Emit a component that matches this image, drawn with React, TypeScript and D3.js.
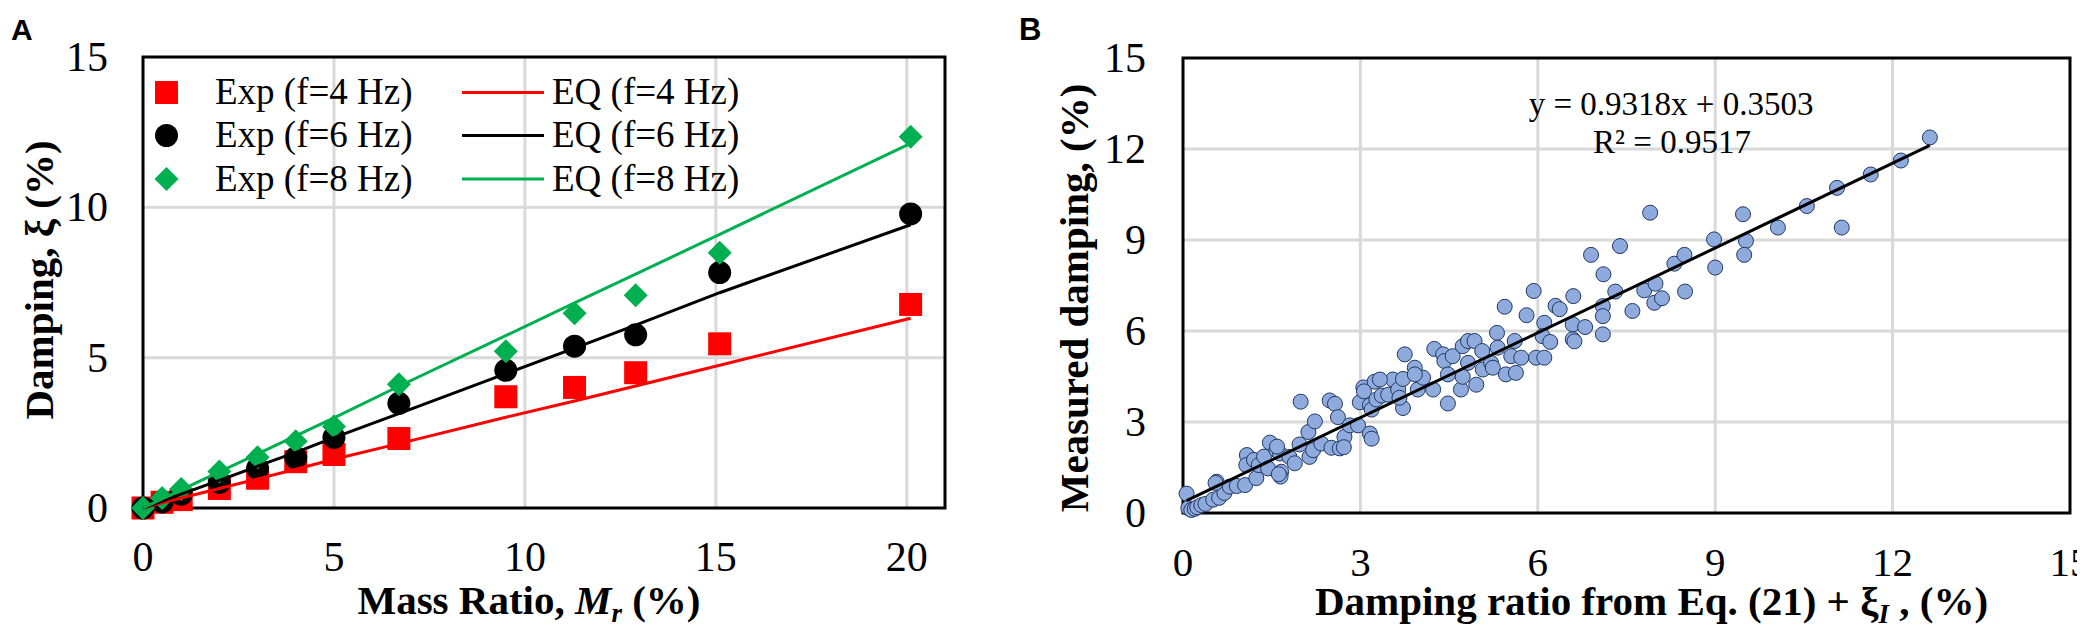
import React from "react";
import * as d3 from "d3";

// ---------- Panel A data ----------
const massRatio = [0, 0.5, 1, 2, 3, 4, 5, 6.7, 9.5, 11.3, 12.9, 15.1, 20.1];
const exp4 = [0, 0.19, 0.28, 0.65, 0.99, 1.54, 1.78, 2.31, 3.7, 4.01, 4.5, 5.46, 6.77];
const exp6 = [0, 0.2, 0.46, 0.85, 1.32, 1.67, 2.35, 3.48, 4.58, 5.38, 5.76, 7.83, 9.78];
const exp8 = [0, 0.33, 0.63, 1.21, 1.69, 2.22, 2.71, 4.12, 5.21, 6.48, 7.08, 8.49, 12.35];
const eq4 = [0, 0.17, 0.33, 0.65, 0.97, 1.29, 1.62, 2.14, 3.02, 3.56, 4.06, 4.75, 6.31];
const eq6 = [0, 0.23, 0.46, 0.92, 1.39, 1.85, 2.34, 3.14, 4.47, 5.32, 6.08, 7.16, 9.42];
const eq8 = [0, 0.3, 0.6, 1.2, 1.8, 2.4, 3.0, 4.05, 5.73, 6.82, 7.78, 9.1, 12.13];
const xTicksA = [0, 5, 10, 15, 20];
const yTicksA = [0, 5, 10, 15];
const legendExp = ["Exp (f=4 Hz)", "Exp (f=6 Hz)", "Exp (f=8 Hz)"];
const legendEq = ["EQ (f=4 Hz)", "EQ (f=6 Hz)", "EQ (f=8 Hz)"];

// ---------- Panel B data ----------
const predX = [
  0.06, 0.09, 0.14, 0.2, 0.24, 0.31, 0.38, 0.51, 0.57, 0.61, 0.7, 0.79, 0.91, 1.05, 1.08, 1.07, 1.2, 1.24, 1.28, 1.37,
  1.47, 1.44, 1.58, 1.64, 1.59, 1.66, 1.65, 1.8, 1.89, 1.97, 1.99, 2.12, 2.14, 2.2, 2.23, 2.34, 2.48, 2.57, 2.51, 2.62,
  2.65, 2.73, 2.82, 2.96, 2.99, 3.05, 3.16, 3.16, 3.24, 3.19, 3.06, 3.19, 3.27, 3.36, 3.47, 3.55, 3.64, 3.72, 3.72, 3.75,
  3.92, 3.97, 4.06, 4.23, 4.25, 4.4, 4.42, 4.48, 4.48, 4.56, 4.7, 4.73, 4.82, 4.73, 4.82, 4.93, 4.96, 5.06, 5.07, 5.21,
  5.24, 5.31, 5.32, 5.44, 5.46, 5.55, 5.61, 5.63, 5.72, 5.81, 5.93, 5.97, 6.11, 6.11, 6.08, 6.21, 6.3, 6.37, 3.33, 3.92,
  3.66, 2.72, 1.62, 0.55, 6.6, 6.59, 6.59, 6.62, 6.8, 6.9, 7.1, 7.1, 7.11, 7.1, 7.31, 7.39, 7.6, 7.8, 7.9, 7.97,
  7.99, 8.1, 8.31, 8.48, 8.49, 8.98, 9.0, 9.47, 9.52, 9.49, 10.06, 10.55, 11.06, 11.14, 11.63, 12.14, 12.63,
];
const measY = [
  0.64, 0.16, 0.1, 0.14, 0.19, 0.26, 0.3, 0.44, 1.03, 0.5, 0.66, 0.87, 0.89, 0.92, 1.91, 1.58, 1.75, 1.15, 1.58, 1.86,
  2.32, 1.47, 2.07, 1.96, 2.19, 1.36, 1.2, 1.85, 1.64, 2.26, 3.67, 2.67, 1.85, 2.07, 3.02, 2.29, 3.71, 3.6, 2.15, 3.16,
  2.13, 2.51, 2.89, 2.89, 3.65, 4.14, 2.62, 3.55, 4.33, 2.45, 4.01, 3.41, 3.74, 3.87, 3.9, 4.4, 4.07, 4.42, 3.46, 5.23,
  4.79, 4.07, 4.46, 4.07, 5.41, 5.23, 5.01, 3.61, 4.57, 5.17, 4.07, 5.5, 5.67, 4.49, 4.95, 5.67, 4.23, 5.34, 4.73, 4.95,
  4.79, 5.94, 5.45, 6.8, 4.57, 5.17, 5.67, 4.62, 5.12, 6.52, 7.32, 5.12, 6.27, 5.12, 5.83, 5.64, 6.83, 6.72, 4.4, 4.57,
  3.8, 2.17, 1.28, 0.99, 7.15, 6.22, 5.73, 5.66, 6.13, 8.51, 6.82, 6.49, 7.87, 5.89, 7.3, 8.8, 6.66, 7.34, 9.9, 6.93,
  7.56, 7.08, 8.22, 8.51, 7.3, 9.02, 8.09, 9.85, 8.97, 8.51, 9.41, 10.12, 10.72, 9.41, 11.16, 11.62, 12.38,
];
const trendSlope = 0.9318;
const trendIntercept = 0.3503;
const rSquared = 0.9517;
const ticksB = [0, 3, 6, 9, 12, 15];

const SERIF = "'Liberation Serif', 'Times New Roman', serif";
const SANS = "'Liberation Sans', Arial, sans-serif";
const RED = "#FF0000";
const GREEN = "#00B050";
const GRID = "#D9D9D9";
const TICK_FS = 42;
const TITLE_FS = 41;

function Diamond({ cx, cy, r, fill }: { cx: number; cy: number; r: number; fill: string }) {
  return <path d={`M${cx},${cy - r}L${cx + r},${cy}L${cx},${cy + r}L${cx - r},${cy}Z`} fill={fill} />;
}

function marker(kind: string, cx: number, cy: number, color: string, key?: any) {
  if (kind === "sq") return <rect key={key} x={cx - 11.5} y={cy - 11.5} width={23} height={23} fill={color} />;
  if (kind === "ci") return <circle key={key} cx={cx} cy={cy} r={11.5} fill={color} />;
  return <Diamond key={key} cx={cx} cy={cy} r={12} fill={color} />;
}

function PanelA() {
  const L = 135, R = 937, T = 49, B = 500;
  const x = d3.scaleLinear().domain([0, 21]).range([L, R]);
  const y = d3.scaleLinear().domain([0, 15]).range([B, T]);
  const line = (vals: number[]) =>
    d3.line<number>().x((_, i) => x(massRatio[i])).y((v) => y(v))(vals) || "";
  const colors = [RED, "#000", GREEN];
  const kinds = ["sq", "ci", "di"];
  const rowY = [84.5, 127.5, 171];
  return (
    <g>
      {xTicksA.filter((t) => t > 0).map((t) => (
        <line key={"gx" + t} x1={x(t)} x2={x(t)} y1={T} y2={B} stroke={GRID} strokeWidth={3} />
      ))}
      {yTicksA.filter((t) => t > 0 && t < 15).map((t) => (
        <line key={"gy" + t} x1={L} x2={R} y1={y(t)} y2={y(t)} stroke={GRID} strokeWidth={3} />
      ))}
      <rect x={L} y={T} width={R - L} height={B - T} fill="none" stroke="#000" strokeWidth={3} />
      {exp4.map((v, i) => marker("sq", x(massRatio[i]), y(v), RED, "r" + i))}
      {exp6.map((v, i) => marker("ci", x(massRatio[i]), y(v), "#000", "b" + i))}
      {exp8.map((v, i) => marker("di", x(massRatio[i]), y(v), GREEN, "g" + i))}
      <path d={line(eq4)} fill="none" stroke={RED} strokeWidth={3} />
      <path d={line(eq6)} fill="none" stroke="#000" strokeWidth={3} />
      <path d={line(eq8)} fill="none" stroke={GREEN} strokeWidth={3} />
      {xTicksA.map((t) => (
        <text key={"tx" + t} x={x(t)} y={563} textAnchor="middle" fontFamily={SERIF} fontSize={TICK_FS}>{t}</text>
      ))}
      {yTicksA.map((t) => (
        <text key={"ty" + t} x={L - 35} y={y(t) + 14} textAnchor="end" fontFamily={SERIF} fontSize={TICK_FS}>{t}</text>
      ))}
      {legendExp.map((lab, i) => (
        <g key={"lg" + i}>
          {marker(kinds[i], 158.5, rowY[i], colors[i])}
          <text x={207} y={rowY[i] + 11.5} fontFamily={SERIF} fontSize={37}>{lab}</text>
          <line x1={454} x2={536} y1={rowY[i]} y2={rowY[i]} stroke={colors[i]} strokeWidth={3} />
          <text x={544} y={rowY[i] + 11.5} fontFamily={SERIF} fontSize={37}>{legendEq[i]}</text>
        </g>
      ))}
      <text x={(L + R) / 2 - 15} y={606} textAnchor="middle" fontFamily={SERIF} fontSize={TITLE_FS} fontWeight="bold">
        Mass Ratio, <tspan fontStyle="italic">M</tspan>
        <tspan fontStyle="italic" fontSize={27} dy={8}>r</tspan>
        <tspan dy={-8}> (%)</tspan>
      </text>
      <text transform={`translate(45,272) rotate(-90)`} textAnchor="middle" fontFamily={SERIF} fontSize={TITLE_FS} fontWeight="bold">
        Damping, ξ (%)
      </text>
      <text x={3} y={32} fontFamily={SANS} fontSize={30} fontWeight="bold">A</text>
    </g>
  );
}

function PanelB() {
  const L = 1175, R = 2062, T = 50, B = 505;
  const x = d3.scaleLinear().domain([0, 15]).range([L, R]);
  const y = d3.scaleLinear().domain([0, 15]).range([B, T]);
  const xMin = d3.min(predX) as number;
  const xMax = d3.max(predX) as number;
  return (
    <g>
      {ticksB.filter((t) => t > 0 && t < 15).map((t) => (
        <g key={"g" + t}>
          <line x1={x(t)} x2={x(t)} y1={T} y2={B} stroke={GRID} strokeWidth={3} />
          <line x1={L} x2={R} y1={y(t)} y2={y(t)} stroke={GRID} strokeWidth={3} />
        </g>
      ))}
      <rect x={L} y={T} width={R - L} height={B - T} fill="none" stroke="#000" strokeWidth={3} />
      {predX.map((v, i) => (
        <circle key={"p" + i} cx={x(v)} cy={y(measY[i])} r={7.5} fill="#8FAADC" stroke="#203864" strokeWidth={1} />
      ))}
      <line
        x1={x(xMin)} y1={y(trendSlope * xMin + trendIntercept)}
        x2={x(xMax)} y2={y(trendSlope * xMax + trendIntercept)}
        stroke="#000" strokeWidth={3}
      />
      <text x={1663} y={107} textAnchor="middle" fontFamily={SERIF} fontSize={33}>
        y = {trendSlope}x + {trendIntercept}
      </text>
      <text x={1664} y={145} textAnchor="middle" fontFamily={SERIF} fontSize={33}>R² = {rSquared}</text>
      {ticksB.map((t) => (
        <text key={"tx" + t} x={x(t)} y={568} textAnchor="middle" fontFamily={SERIF} fontSize={TICK_FS - 1}>{t}</text>
      ))}
      {ticksB.map((t) => (
        <text key={"ty" + t} x={L - 37} y={y(t) + 14} textAnchor="end" fontFamily={SERIF} fontSize={TICK_FS}>{t}</text>
      ))}
      <text x={(L + R) / 2 + 25} y={607} textAnchor="middle" fontFamily={SERIF} fontSize={TITLE_FS} fontWeight="bold">
        Damping ratio from Eq. (21) + ξ<tspan fontStyle="italic" fontSize={27} dy={8}>I</tspan>
        <tspan dy={-8}> , (%)</tspan>
      </text>
      <text transform={`translate(1080,290) rotate(-90)`} textAnchor="middle" fontFamily={SERIF} fontSize={TITLE_FS} fontWeight="bold">
        Measured damping, (%)
      </text>
      <text x={1011} y={32} fontFamily={SANS} fontSize={31} fontWeight="bold">B</text>
    </g>
  );
}

export default function App() {
  return (
    <svg width={2085} height={626} viewBox="0 0 2085 626" style={{ display: "block", background: "#fff" }}>
      <rect width={2085} height={626} fill="#fff" />
      <PanelA />
      <PanelB />
    </svg>
  );
}
